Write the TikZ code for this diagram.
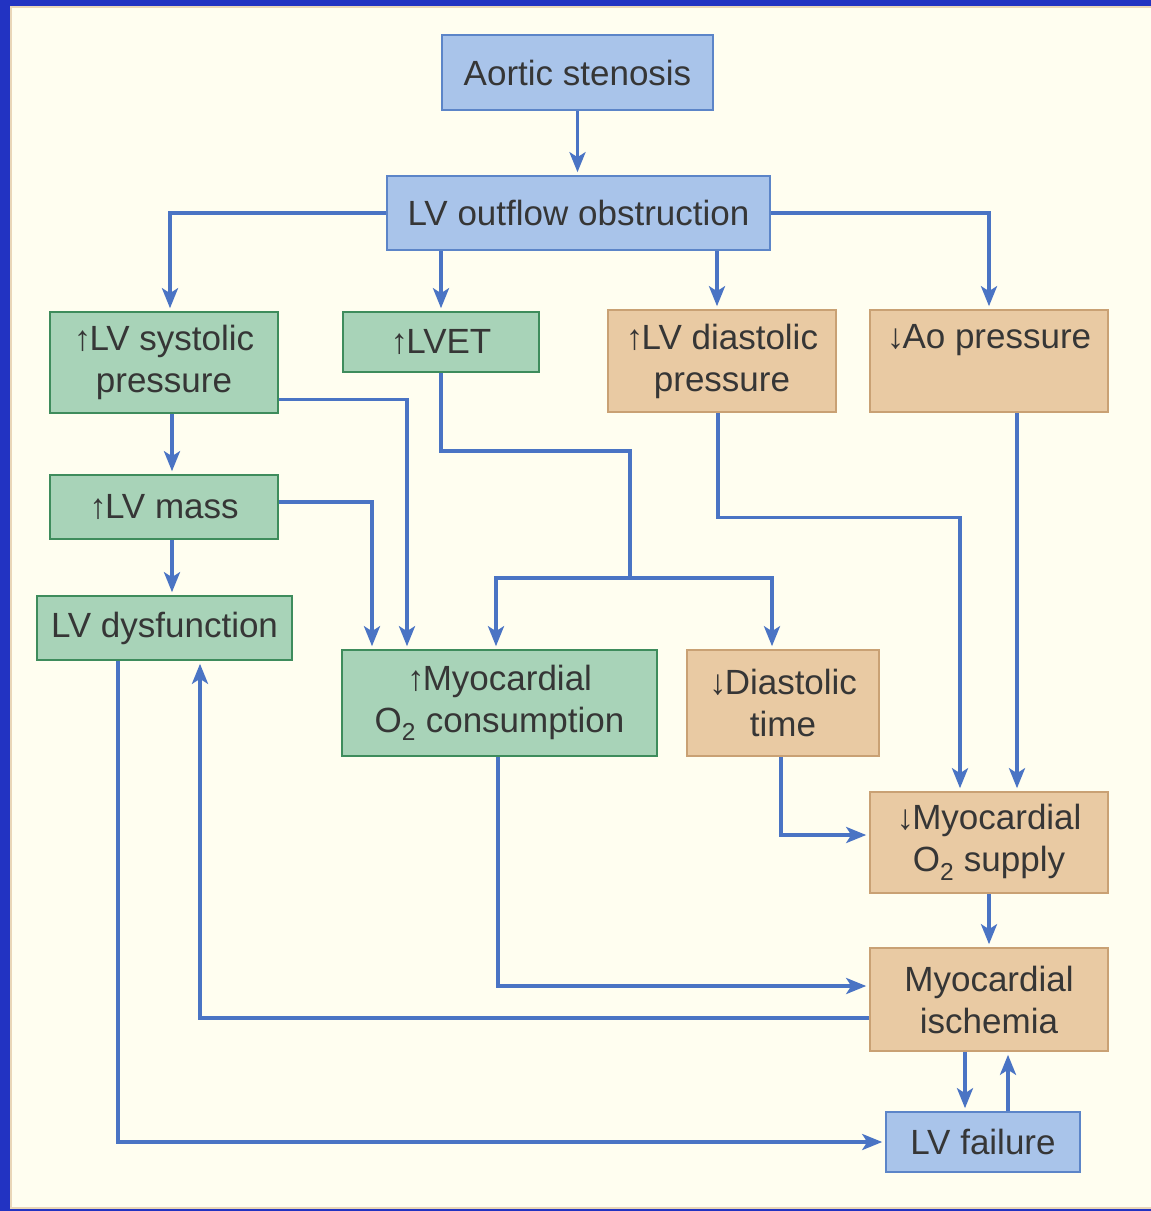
\documentclass[tikz,border=0pt]{standalone}
\usepackage{fontspec}
\setmainfont{Liberation Sans}
\usetikzlibrary{arrows.meta}
\definecolor{bgblue}{HTML}{2233C2}
\definecolor{cream}{HTML}{FFFEF0}
\definecolor{creamedge}{HTML}{E9D6B8}
\definecolor{bfill}{HTML}{A9C4EA}
\definecolor{bline}{HTML}{5C85C8}
\definecolor{gfill}{HTML}{A8D3B8}
\definecolor{gline}{HTML}{3E8C5C}
\definecolor{tfill}{HTML}{E9CAA3}
\definecolor{tline}{HTML}{C9A174}
\definecolor{wire}{HTML}{4A74C4}
\definecolor{ink}{HTML}{363636}
\newcommand{\up}{\char"2191\kern-0.05em}
\newcommand{\dn}{\char"2193\kern-0.05em}
\tikzset{
  x=1pt, y=-1pt,
  box/.style={draw, line width=2.6pt, inner sep=0pt, align=center,
    text=ink, font=\fontsize{35}{42}\selectfont},
  bluebox/.style={box, fill=bfill, draw=bline},
  greenbox/.style={box, fill=gfill, draw=gline},
  tanbox/.style={box, fill=tfill, draw=tline},
  conn/.style={draw=wire, line width=3.5pt, shorten >=2.5pt,
    -{Stealth[length=20pt,width=16pt,inset=5pt]}},
  wireline/.style={draw=wire, line width=3.5pt}
}
\begin{document}
\begin{tikzpicture}
\useasboundingbox (0,0) rectangle (1151,1211);
\fill[bgblue] (0,0) rectangle (1151,1211);
\filldraw[fill=cream, draw=creamedge, line width=2pt] (11,7) rectangle (1155,1208);

% boxes
\node[bluebox, minimum width=271pt, minimum height=75pt] (as) at (577.5,72.5) {Aortic stenosis};
\node[bluebox, minimum width=383pt, minimum height=74pt] (lvo) at (578.5,213) {LV outflow obstruction};
\node[greenbox, minimum width=228pt, minimum height=101pt] (sys) at (164,362.5) {\up LV systolic\\pressure};
\node[greenbox, minimum width=196pt, minimum height=60pt] (lvet) at (441,342) {\up LVET};
\node[tanbox, minimum width=228pt, minimum height=102pt] (dia) at (722,361) {\up LV diastolic\\pressure};
\node[tanbox, minimum width=238pt, minimum height=102pt] (ao) at (989,361) {\dn Ao pressure\\\vphantom{p}};
\node[greenbox, minimum width=228pt, minimum height=64pt] (mass) at (164,507) {\up LV mass};
\node[greenbox, minimum width=255pt, minimum height=64pt] (dys) at (164.5,628) {LV dysfunction};
\node[greenbox, minimum width=315pt, minimum height=106pt] (mvo) at (499.5,703) {\up Myocardial\\O\textsubscript{2} consumption};
\node[tanbox, minimum width=192pt, minimum height=106pt] (dt) at (783,703) {\dn Diastolic\\time};
\node[tanbox, minimum width=238pt, minimum height=101pt] (sup) at (989,842.5) {\dn Myocardial\\O\textsubscript{2} supply};
\node[tanbox, minimum width=238pt, minimum height=103pt] (isc) at (989,999.5) {Myocardial\\ischemia};
\node[bluebox, minimum width=194pt, minimum height=60pt] (fail) at (983,1142) {LV failure};

% branch point below LVET
\coordinate (j) at (630,578);

% connectors
\draw[conn] (as.south) -- (as.south |- lvo.north);
\draw[conn] (lvo.west) -| ([xshift=6pt]sys.north);
\draw[conn] (lvet.north |- lvo.south) -- (lvet.north);
\draw[conn] ([xshift=-5pt]dia.north |- lvo.south) -- ([xshift=-5pt]dia.north);
\draw[conn] (lvo.east) -| (ao.north);
\draw[conn] ([xshift=8pt]sys.south) -- ([xshift=8pt]mass.north);
\draw[conn] ([xshift=8pt]mass.south) -- ([xshift=7.5pt]dys.north);
\draw[conn] ([yshift=-37pt]sys.east) -| ([xshift=-92.5pt]mvo.north);
\draw[conn] ([yshift=5pt]mass.east) -| ([xshift=-127.5pt]mvo.north);
\draw[wireline] (lvet.south) |- ([yshift=127pt]j) -- (j);
\draw[conn] (j) -| ([xshift=-3.5pt]mvo.north);
\draw[conn] (j) -| ([xshift=-11pt]dt.north);
\draw[conn] ([xshift=-4pt]dia.south) -- ++(0,104) -| ([xshift=-29pt]sup.north);
\draw[conn] ([xshift=28pt]ao.south) -- ([xshift=28pt]sup.north);
\draw[conn] ([xshift=-2pt]dt.south) |- ([yshift=7.5pt]sup.west);
\draw[conn] (sup.south) -- (isc.north);
\draw[conn] ([xshift=-1.5pt]mvo.south) |- ([yshift=13.5pt]isc.west);
\draw[conn] ([yshift=-18.5pt]isc.west) -| ([xshift=35.5pt]dys.south);
\draw[conn] ([xshift=-46.5pt]dys.south) |- (fail.west);
\draw[conn] ([xshift=-24pt]isc.south) -- ([xshift=-18pt]fail.north);
\draw[conn] ([xshift=25pt]fail.north) -- ([xshift=19pt]isc.south);
\end{tikzpicture}
\end{document}
